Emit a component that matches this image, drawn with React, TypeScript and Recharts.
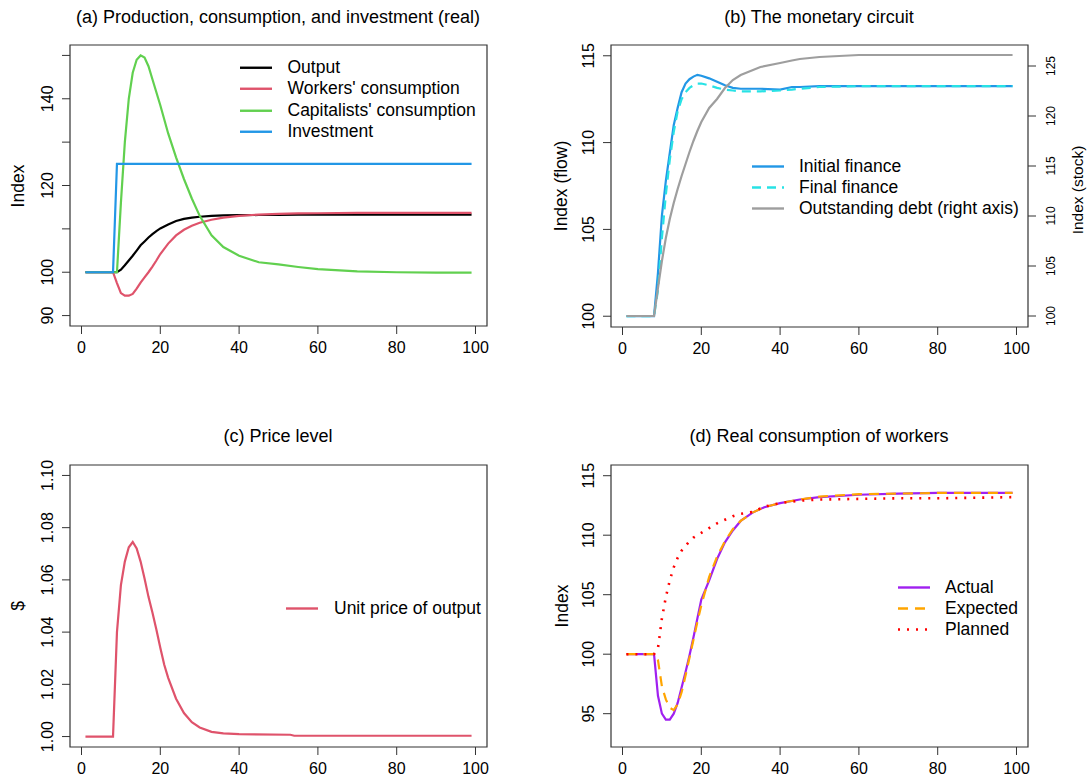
import { LineChart, Line, XAxis, YAxis, ReferenceArea } from 'recharts'

const FONT = '"Liberation Sans", Arial, sans-serif'
const BOX = '#333'

// ---- (a) production, consumption, investment ----
const tA = [1, 8, 9, 10, 11, 12, 13, 14, 15, 16, 17, 18, 19, 20, 22, 24, 26, 28, 30, 33, 36, 40, 45, 50, 55, 60, 70, 80, 90, 99]
const outputA = [100, 100, 100, 100.6, 101.6, 102.7, 103.8, 105, 106.2, 107.1, 108, 108.8, 109.5, 110.1, 111, 111.8, 112.3, 112.6, 112.8, 113, 113.1, 113.15, 113.2, 113.2, 113.25, 113.25, 113.3, 113.3, 113.3, 113.3]
const workersA = [100, 100, 97.5, 95.2, 94.6, 94.6, 95, 96.2, 97.6, 98.8, 100, 101.3, 102.7, 104.2, 106.6, 108.5, 109.8, 110.7, 111.4, 112.1, 112.6, 113, 113.3, 113.45, 113.55, 113.6, 113.7, 113.7, 113.7, 113.7]
const capitalistsA = [100, 100, 100, 116, 130, 140, 146, 149, 150, 149.5, 147.5, 144.5, 141.5, 138.5, 132, 126.5, 121.5, 117, 113, 108.5, 105.8, 103.8, 102.3, 101.8, 101.2, 100.7, 100.2, 100, 99.9, 99.9]
const investmentA = [100, 100, 125, 125, 125, 125, 125, 125, 125, 125, 125, 125, 125, 125, 125, 125, 125, 125, 125, 125, 125, 125, 125, 125, 125, 125, 125, 125, 125, 125]

// ---- (b) monetary circuit ----
const tB = [1, 8, 9, 10, 11, 12, 13, 14, 15, 16, 17, 18, 19, 20, 22, 24, 26, 28, 30, 35, 40, 43, 45, 50, 60, 70, 80, 90, 99]
const initialB = [100, 100, 102.5, 105.8, 107.8, 109.4, 111, 112, 112.9, 113.4, 113.65, 113.8, 113.9, 113.85, 113.7, 113.5, 113.3, 113.15, 113.1, 113.1, 113.05, 113.2, 113.2, 113.25, 113.25, 113.25, 113.25, 113.25, 113.25]
const finalB = [100, 100, 101.5, 104.5, 107, 109, 110.6, 111.8, 112.5, 112.9, 113.15, 113.3, 113.4, 113.4, 113.3, 113.15, 113.05, 113, 112.95, 112.95, 113, 113.05, 113.1, 113.2, 113.25, 113.25, 113.25, 113.25, 113.25]
const debtB = [100, 100, 102.8, 105.5, 107.8, 109.7, 111.3, 112.7, 114, 115.2, 116.4, 117.5, 118.5, 119.4, 120.8, 121.7, 122.8, 123.6, 124.1, 124.9, 125.3, 125.55, 125.7, 125.9, 126.1, 126.1, 126.1, 126.1, 126.1]

// ---- (c) price level ----
const tC = [1, 8, 9, 10, 11, 12, 13, 14, 15, 16, 17, 18, 19, 20, 21, 22, 24, 26, 28, 30, 33, 36, 40, 53, 54, 99]
const priceC = [1, 1, 1.04, 1.058, 1.067, 1.0725, 1.0745, 1.072, 1.067, 1.0605, 1.0535, 1.0475, 1.041, 1.034, 1.0275, 1.0225, 1.0145, 1.009, 1.0055, 1.0035, 1.0018, 1.0012, 1.0009, 1.0007, 1.0003, 1.0003]

// ---- (d) real consumption of workers ----
const tD = [1, 8, 9, 10, 11, 12, 13, 14, 15, 16, 17, 18, 19, 20, 22, 24, 26, 28, 30, 33, 36, 40, 45, 50, 60, 70, 80, 90, 99]
const actualD = [100, 100, 96.5, 95, 94.5, 94.5, 95, 95.9, 97.2, 98.5, 99.9, 101.4, 103, 104.6, 106.2, 108, 109.4, 110.4, 111.2, 111.9, 112.35, 112.7, 113, 113.2, 113.4, 113.5, 113.55, 113.55, 113.55]
const expectedD = [100, 100, 99.5, 97.3, 96.2, 95.5, 95.3, 95.8, 96.8, 98.2, 99.7, 101.2, 102.7, 104.1, 106.5, 108.2, 109.5, 110.5, 111.2, 111.9, 112.35, 112.7, 113, 113.25, 113.45, 113.5, 113.55, 113.55, 113.55]
const plannedD = [100, 100, 100.5, 103, 104.8, 106.2, 107.3, 108.1, 108.7, 109.1, 109.5, 109.8, 110, 110.2, 110.6, 111, 111.3, 111.6, 111.8, 111.95, 112.4, 112.7, 112.9, 113, 113.05, 113.1, 113.1, 113.15, 113.2]

const xTicks = [0, 20, 40, 60, 80, 100]
const xDomain: [number, number] = [-2.92, 102.92]

const rows = (t: number[], cols: Record<string, number[]>) =>
  t.map((x, i) => {
    const r: Record<string, number> = { t: x }
    for (const k in cols) r[k] = cols[k][i]
    return r
  })

const dataA = rows(tA, { output: outputA, workers: workersA, capitalists: capitalistsA, investment: investmentA })
const dataB = rows(tB, { initial: initialB, final: finalB, debt: debtB })
const dataC = rows(tC, { price: priceC })
const dataD = rows(tD, { actual: actualD, expected: expectedD, planned: plannedD })

// rotated y tick label, like R's default las=0
function VTick(props: any) {
  const { x, y, payload, size = 16, hide = [], fmt } = props
  if (hide.includes(payload.value)) return <g />
  const label = fmt ? fmt(payload.value) : String(payload.value)
  return (
    <text x={x} y={y} dy="0.36em" textAnchor="middle" transform={`rotate(-90 ${x} ${y})`}
      fontSize={size} fill="#000" fontFamily={FONT}>
      {label}
    </text>
  )
}

interface KeyItem { name: string; color: string; dash?: string; width?: number }

function KeyBox({ items, left, top, rowH, gap }: { items: KeyItem[]; left: number; top: number; rowH: number; gap: number }) {
  return (
    <div style={{ position: 'absolute', left, top, fontSize: 17.5, fontFamily: FONT, color: '#000' }}>
      {items.map((it) => (
        <div key={it.name} style={{ display: 'flex', alignItems: 'center', height: rowH, whiteSpace: 'nowrap' }}>
          <svg width={32} height={rowH} style={{ flexShrink: 0 }}>
            <line x1={0} x2={32} y1={rowH / 2} y2={rowH / 2} stroke={it.color}
              strokeWidth={it.width ?? 2.4} strokeDasharray={it.dash} />
          </svg>
          <span style={{ marginLeft: gap, lineHeight: `${rowH}px` }}>{it.name}</span>
        </div>
      ))}
    </div>
  )
}

function Title({ text, x, y }: { text: string; x: number; y: number }) {
  return (
    <div style={{ position: 'absolute', left: x, top: y, transform: 'translate(-50%, -50%)', fontSize: 18, fontFamily: FONT, whiteSpace: 'nowrap', color: '#000' }}>
      {text}
    </div>
  )
}

function VTitle({ text, x, y, size = 17.5 }: { text: string; x: number; y: number; size?: number }) {
  return (
    <div style={{ position: 'absolute', left: x, top: y, transform: 'translate(-50%, -50%) rotate(-90deg)', fontSize: size, fontFamily: FONT, whiteSpace: 'nowrap', color: '#000' }}>
      {text}
    </div>
  )
}

const xAxisProps = {
  dataKey: 't',
  type: 'number' as const,
  domain: xDomain,
  ticks: xTicks,
  interval: 0 as const,
  allowDataOverflow: true,
  axisLine: false,
  tickSize: 8,
  tickMargin: 8,
  height: 30,
  tickLine: { stroke: BOX },
  tick: { fill: '#000', fontSize: 16, fontFamily: FONT },
}

const lineProps = { type: 'linear' as const, dot: false, isAnimationActive: false, strokeWidth: 2.2 }

export default function App() {
  return (
    <div style={{ position: 'absolute', left: 0, top: 0, width: 1088, height: 779, background: '#fff', overflow: 'hidden' }}>
      {/* (a) */}
      <div style={{ position: 'absolute', left: 0, top: 0 }}>
        <LineChart width={544} height={390} data={dataA} margin={{ top: 45, right: 57, bottom: 34, left: 0 }}>
          <XAxis {...xAxisProps} />
          <YAxis type="number" domain={[87.6, 152.4]} ticks={[90, 100, 110, 120, 130, 140, 150]} interval={0}
            allowDataOverflow width={70} axisLine={false} tickSize={8} tickMargin={15} tickLine={{ stroke: BOX }}
            tick={(p: any) => <VTick {...p} hide={[110, 130, 150]} />} />
          <Line {...lineProps} dataKey="output" stroke="#000000" />
          <Line {...lineProps} dataKey="workers" stroke="#DF536B" />
          <Line {...lineProps} dataKey="capitalists" stroke="#61D04F" />
          <Line {...lineProps} dataKey="investment" stroke="#2297E6" />
          <ReferenceArea x1={xDomain[0]} x2={xDomain[1]} y1={87.6} y2={152.4} fill="none" stroke={BOX} strokeWidth={1.2} />
        </LineChart>
      </div>

      {/* (b) */}
      <div style={{ position: 'absolute', left: 544, top: 0 }}>
        <LineChart width={544} height={390} data={dataB} margin={{ top: 45, right: 0, bottom: 33, left: 0 }}>
          <XAxis {...xAxisProps} />
          <YAxis yAxisId="left" type="number" domain={[99.38, 115.62]} ticks={[100, 105, 110, 115]} interval={0}
            allowDataOverflow width={67} axisLine={false} tickSize={8} tickMargin={15} tickLine={{ stroke: BOX }}
            tick={(p: any) => <VTick {...p} />} />
          <YAxis yAxisId="right" orientation="right" type="number" domain={[98.9, 127.1]} ticks={[100, 105, 110, 115, 120, 125]}
            interval={0} allowDataOverflow width={60} axisLine={false} tickSize={8} tickMargin={15} tickLine={{ stroke: BOX }}
            tick={(p: any) => <VTick {...p} size={12} />} />
          <Line {...lineProps} yAxisId="left" dataKey="initial" stroke="#2297E6" />
          <Line {...lineProps} yAxisId="left" dataKey="final" stroke="#28E2E5" strokeDasharray="9 6" />
          <Line {...lineProps} yAxisId="right" dataKey="debt" stroke="#9E9E9E" />
          <ReferenceArea yAxisId="left" x1={xDomain[0]} x2={xDomain[1]} y1={99.38} y2={115.62} fill="none" stroke={BOX} strokeWidth={1.2} />
        </LineChart>
      </div>

      {/* (c) */}
      <div style={{ position: 'absolute', left: 0, top: 390 }}>
        <LineChart width={544} height={389} data={dataC} margin={{ top: 75, right: 57, bottom: 2, left: 0 }}>
          <XAxis {...xAxisProps} />
          <YAxis type="number" domain={[0.996, 1.104]} ticks={[1, 1.02, 1.04, 1.06, 1.08, 1.1]} interval={0}
            allowDataOverflow width={70} axisLine={false} tickSize={8} tickMargin={15} tickLine={{ stroke: BOX }}
            tick={(p: any) => <VTick {...p} fmt={(v: number) => v.toFixed(2)} />} />
          <Line {...lineProps} dataKey="price" stroke="#DF536B" />
          <ReferenceArea x1={xDomain[0]} x2={xDomain[1]} y1={0.996} y2={1.104} fill="none" stroke={BOX} strokeWidth={1.2} />
        </LineChart>
      </div>

      {/* (d) */}
      <div style={{ position: 'absolute', left: 544, top: 390 }}>
        <LineChart width={544} height={389} data={dataD} margin={{ top: 75, right: 60, bottom: 2, left: 0 }}>
          <XAxis {...xAxisProps} />
          <YAxis type="number" domain={[92.2, 115.9]} ticks={[95, 100, 105, 110, 115]} interval={0}
            allowDataOverflow width={67} axisLine={false} tickSize={8} tickMargin={15} tickLine={{ stroke: BOX }}
            tick={(p: any) => <VTick {...p} />} />
          <Line {...lineProps} dataKey="actual" stroke="#A020F0" />
          <Line {...lineProps} dataKey="expected" stroke="#FFA500" strokeDasharray="10 7" />
          <Line {...lineProps} dataKey="planned" stroke="#FF0000" strokeWidth={2.6} strokeDasharray="2 7" />
          <ReferenceArea x1={xDomain[0]} x2={xDomain[1]} y1={92.2} y2={115.9} fill="none" stroke={BOX} strokeWidth={1.2} />
        </LineChart>
      </div>

      <Title text="(a) Production, consumption, and investment (real)" x={278} y={17} />
      <Title text="(b) The monetary circuit" x={819} y={17} />
      <Title text="(c) Price level" x={278} y={436} />
      <Title text="(d) Real consumption of workers" x={819} y={436} />

      <VTitle text="Index" x={18} y={186} />
      <VTitle text="Index (flow)" x={561} y={186} />
      <VTitle text="Index (stock)" x={1078} y={190} size={15.5} />
      <VTitle text="$" x={18} y={606} />
      <VTitle text="Index" x={562} y={606} />

      <KeyBox left={240} top={56.5} rowH={21.5} gap={15.5} items={[
        { name: 'Output', color: '#000000' },
        { name: "Workers' consumption", color: '#DF536B' },
        { name: "Capitalists' consumption", color: '#61D04F' },
        { name: 'Investment', color: '#2297E6' },
      ]} />
      <KeyBox left={752} top={156} rowH={21} gap={15} items={[
        { name: 'Initial finance', color: '#2297E6' },
        { name: 'Final finance', color: '#28E2E5', dash: '9 6' },
        { name: 'Outstanding debt (right axis)', color: '#9E9E9E' },
      ]} />
      <KeyBox left={286} top={597.5} rowH={21} gap={16} items={[
        { name: 'Unit price of output', color: '#DF536B' },
      ]} />
      <KeyBox left={898} top={576.5} rowH={21} gap={15} items={[
        { name: 'Actual', color: '#A020F0' },
        { name: 'Expected', color: '#FFA500', dash: '10 7' },
        { name: 'Planned', color: '#FF0000', dash: '2 7', width: 2.6 },
      ]} />
    </div>
  )
}
